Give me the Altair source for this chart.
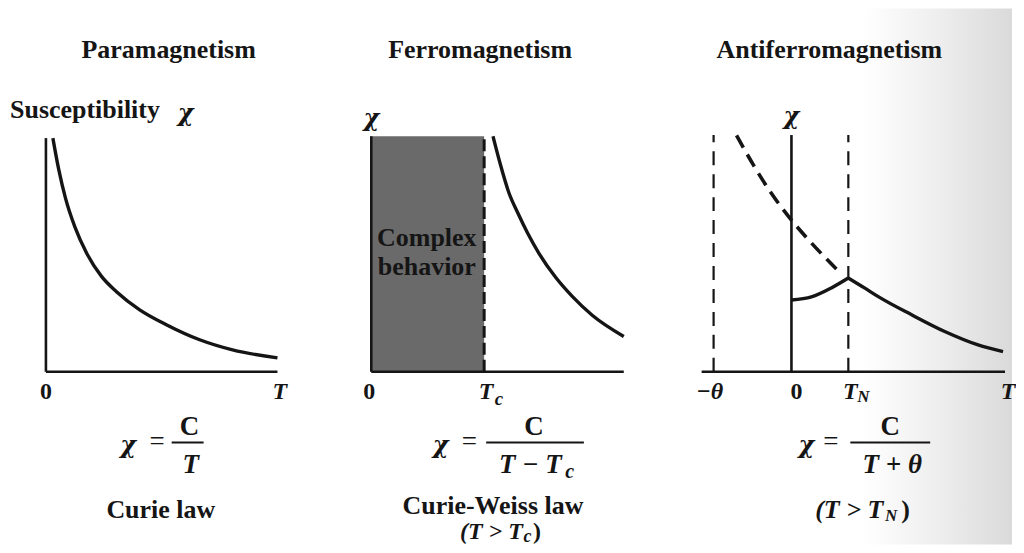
import altair as alt
import pandas as pd

FONT = "Liberation Serif"
GREEK = "DejaVu Serif"
INK = "#151515"

# ---------------- values ----------------
titles = ["Paramagnetism", "Ferromagnetism", "Antiferromagnetism"]
law_names = ["Curie law", "Curie-Weiss law"]

# Paramagnetism: chi = C / T
para_T = [0.30, 0.55, 0.85, 1.25, 1.75, 2.40, 3.06, 4.05, 5.22, 6.64, 8.06, 10.0]
para_chi = [9.92, 8.60, 7.35, 6.15, 5.05, 4.05, 3.39, 2.63, 1.99, 1.36, 0.93, 0.59]
para_T_end, para_chi_top = 10.0, 9.92

# Ferromagnetism: chi = C / (T - Tc), complex behaviour below Tc
ferro_T = [4.82, 5.10, 5.45, 5.80, 6.20, 6.64, 7.30, 7.96, 8.75, 10.0]
ferro_chi = [10.0, 8.85, 7.60, 6.75, 5.87, 5.03, 4.01, 3.20, 2.40, 1.50]
ferro_Tc = 4.47
ferro_T_end, ferro_chi_top = 10.0, 10.0

# Antiferromagnetism: chi = C / (T + theta) above T_N
anti_ext_T = [-2.75, -1.90, -1.05, 0.00, 1.00, 2.45]      # dashed extrapolation
anti_ext_chi = [10.04, 8.77, 7.63, 6.44, 5.47, 4.19]
anti_low_T = [0.00, 1.00, 2.00, 2.85]                    # below T_N
anti_low_chi = [3.05, 3.18, 3.56, 3.98]
anti_high_T = [2.85, 3.68, 4.35, 6.02, 7.68, 9.35, 10.6]  # above T_N
anti_high_chi = [3.98, 3.55, 3.19, 2.42, 1.71, 1.14, 0.86]
anti_theta, anti_TN = -3.9, 2.85
anti_T_start, anti_T_end, anti_chi_top = -4.5, 10.7, 10.05

# ---------------- layout ----------------
H = 537
Y_DOM = [-7.33, 15.42]
P1_DOM, P1_W = [-1.638, 12.241], 322
P2_DOM, P2_W = [-1.660, 11.581], 335
P3_DOM, P3_W = [-6.40, 11.05], 349


def X(dom, f="x"):
    return alt.X(f"{f}:Q", scale=alt.Scale(domain=dom, nice=False, zero=False), axis=None)


def Y(f="y"):
    return alt.Y(f"{f}:Q", scale=alt.Scale(domain=Y_DOM, nice=False, zero=False), axis=None)


def curve(xs, ys, dom, width=3.4, dash=None, seg=None):
    df = pd.DataFrame({"x": xs, "y": ys, "seg": seg if seg else [0] * len(xs)})
    kw = dict(color=INK, strokeWidth=width, interpolate="monotone")
    if dash:
        kw["strokeDash"] = dash
    return alt.Chart(df).mark_line(**kw).encode(x=X(dom), y=Y(), detail="seg:N")


def rules(segs, dom, width=2.6, dash=None):
    df = pd.DataFrame(segs, columns=["x", "y", "x2", "y2"])
    kw = dict(color=INK, strokeWidth=width)
    if dash:
        kw["strokeDash"] = dash
    return alt.Chart(df).mark_rule(**kw).encode(x=X(dom), y=Y(), x2="x2:Q", y2="y2:Q")


def texts(rows, dom, size=26, weight="bold", style="normal", align="center", font=FONT):
    df = pd.DataFrame(rows, columns=["x", "y", "label"])
    return alt.Chart(df).mark_text(
        font=font, fontSize=size, fontWeight=weight, fontStyle=style,
        align=align, baseline="middle", color=INK
    ).encode(x=X(dom), y=Y(), text="label:N")


def chi(rows, dom, size=24, align="center"):
    return texts(rows, dom, size=size, weight="bold", style="italic", align=align, font=GREEK)


TITLE_Y = 13.64
TICK_Y = -0.85
NUM_Y, BAR_Y, DEN_Y = -2.33, -3.0, -3.94
LAW_Y = -5.85

# ---------------- panel 1: paramagnetism ----------------
d = P1_DOM
p1 = alt.layer(
    rules([(0, 0, para_T_end, 0), (0, 0, 0, para_chi_top)], d),
    curve(para_T, para_chi, d),
    texts([(5.3, TITLE_Y, titles[0])], d),
    texts([(-1.55, 11.10, "Susceptibility")], d, align="left"),
    chi([(6.03, 10.95, "χ")], d),
    texts([(0, TICK_Y, "0")], d, size=24),
    texts([(10.1, TICK_Y, "T")], d, size=24, style="italic"),
    chi([(3.55, -3.15, "χ")], d),
    texts([(5.13, BAR_Y, "=")], d, size=27, weight="normal", align="right"),
    rules([(5.43, BAR_Y, 6.81, BAR_Y)], d, width=2),
    texts([(6.2, NUM_Y, "C")], d, size=27),
    texts([(6.25, DEN_Y, "T")], d, size=27, style="italic"),
    texts([(4.96, LAW_Y, law_names[0])], d),
).properties(width=P1_W, height=H)

# ---------------- panel 2: ferromagnetism ----------------
d = P2_DOM
box = pd.DataFrame({"x": [0.0], "x2": [ferro_Tc], "y": [0.0], "y2": [ferro_chi_top]})
p2 = alt.layer(
    alt.Chart(box).mark_rect(color="#6a6a6a").encode(x=X(d), x2="x2:Q", y=Y(), y2="y2:Q"),
    rules([(0, 0, ferro_T_end, 0), (0, 0, 0, ferro_chi_top)], d),
    rules([(ferro_Tc, 0, ferro_Tc, ferro_chi_top)], d, width=3, dash=[12, 5]),
    curve(ferro_T, ferro_chi, d),
    texts([(2.2, 5.68, "Complex"), (2.2, 4.45, "behavior")], d, size=26),
    texts([(4.31, TITLE_Y, titles[1])], d),
    chi([(0, 10.75, "χ")], d),
    texts([(-0.08, TICK_Y, "0")], d, size=24),
    texts([(4.55, TICK_Y, "T")], d, size=24, style="italic"),
    texts([(5.06, -1.14, "c")], d, size=19, style="italic"),
    chi([(2.75, -3.15, "χ")], d),
    texts([(4.19, BAR_Y, "=")], d, size=27, weight="normal", align="right"),
    rules([(4.55, BAR_Y, 8.42, BAR_Y)], d, width=2),
    texts([(6.44, NUM_Y, "C")], d, size=27),
    texts([(6.30, DEN_Y, "T − T")], d, size=27, style="italic"),
    texts([(7.86, -4.24, "c")], d, size=20, style="italic"),
    texts([(4.82, -5.70, law_names[1])], d),
    texts([(6.0, -6.80, "(T > T")], d, size=24, style="italic", align="right"),
    texts([(6.19, -7.02, "c")], d, size=18, style="italic"),
    texts([(6.40, -6.80, ")")], d, size=24, align="left"),
).properties(width=P2_W, height=H)

# ---------------- panel 3: antiferromagnetism ----------------
d = P3_DOM
band = pd.DataFrame({"x": [3.6], "x2": [d[1]], "y": [Y_DOM[0]], "y2": [Y_DOM[1]]})
grad = alt.Gradient(
    gradient="linear",
    stops=[alt.GradientStop(offset=0, color="#ffffff"),
           alt.GradientStop(offset=0.5, color="#eeeeee"),
           alt.GradientStop(offset=1, color="#dadada")],
    x1=0, x2=1, y1=0, y2=0,
)
solid_T = anti_low_T + anti_high_T
solid_chi = anti_low_chi + anti_high_chi
solid_seg = [0] * len(anti_low_T) + [1] * len(anti_high_T)
p3 = alt.layer(
    alt.Chart(band).mark_rect(fill=grad).encode(x=X(d), x2="x2:Q", y=Y(), y2="y2:Q"),
    rules([(anti_T_start, 0, anti_T_end, 0), (0, 0, 0, anti_chi_top)], d),
    rules([(anti_theta, 0, anti_theta, anti_chi_top), (anti_TN, 0, anti_TN, anti_chi_top)],
          d, width=2.2, dash=[14, 9]),
    curve(anti_ext_T, anti_ext_chi, d, width=3.6, dash=[14, 8]),
    curve(solid_T, solid_chi, d, seg=solid_seg),
    texts([(1.9, TITLE_Y, titles[2])], d),
    chi([(0, 10.80, "χ")], d),
    texts([(-4.1, TICK_Y, "−θ")], d, size=24, style="italic"),
    texts([(0.25, TICK_Y, "0")], d, size=24),
    texts([(2.95, TICK_Y, "T"), (10.85, TICK_Y, "T")], d, size=24, style="italic"),
    texts([(3.6, -1.08, "N")], d, size=17, style="italic"),
    chi([(0.75, -3.15, "χ")], d),
    texts([(2.35, BAR_Y, "=")], d, size=27, weight="normal", align="right"),
    rules([(2.95, BAR_Y, 6.95, BAR_Y)], d, width=2),
    texts([(4.95, NUM_Y, "C")], d, size=27),
    texts([(5.05, DEN_Y, "T + θ")], d, size=27, style="italic"),
    texts([(4.6, LAW_Y, "(T > T")], d, size=26, style="italic", align="right"),
    texts([(5.0, -6.14, "N")], d, size=17, style="italic"),
    texts([(5.5, LAW_Y, ")")], d, size=26, align="left"),
).properties(width=P3_W, height=H)

chart = (
    alt.hconcat(p1, p2, p3, spacing=0, bounds="flush")
    .properties(padding=0, background="white")
    .configure_view(stroke=None)
)

chart.save("out.html", embed_options={"renderer": "svg", "actions": False})
